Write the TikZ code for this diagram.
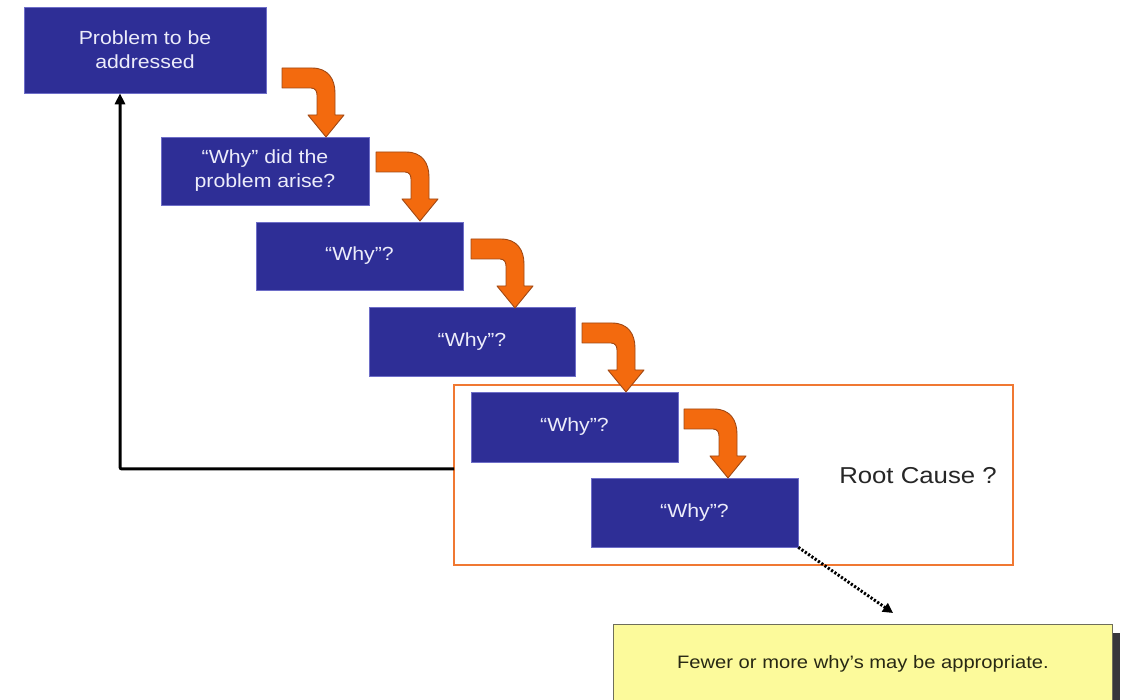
\documentclass[tikz,border=0pt]{standalone}
\usepackage{fontspec}
\setmainfont{Liberation Sans}[FakeStretch=1.12]
\usetikzlibrary{arrows.meta,shadows}

\definecolor{boxblue}{RGB}{46,46,150}
\definecolor{boxedge}{RGB}{110,110,200}
\definecolor{boxtext}{RGB}{236,236,250}
\definecolor{arroworange}{RGB}{243,106,14}
\definecolor{arrowedge}{RGB}{160,72,20}
\definecolor{frameorange}{RGB}{240,120,50}
\definecolor{noteyellow}{RGB}{252,250,155}
\definecolor{noteedge}{RGB}{110,110,90}
\definecolor{notetext}{RGB}{40,40,20}
\definecolor{shadowgrey}{RGB}{55,55,60}

\tikzset{
  whybox/.style={draw=boxedge, line width=0.6pt, fill=boxblue, text=boxtext,
    align=center, inner sep=0pt, font=\fontsize{19}{24}\selectfont},
  rootframe/.style={draw=frameorange, line width=2.8pt, inner sep=0pt},
  notebox/.style={draw=noteedge, line width=0.9pt, fill=noteyellow, text=notetext,
    inner sep=0pt, font=\fontsize{18}{22}\selectfont,
    drop shadow={shadow xshift=8pt, shadow yshift=-9pt, fill=shadowgrey, opacity=1}},
  feedback/.style={line width=3pt, rounded corners=2pt,
    -{Triangle[length=11pt,width=10pt]}},
  dotline/.style={line width=3pt, dash pattern=on 2.2pt off 1.8pt,
    -{Triangle[length=10pt,width=10pt]}},
  bendarrow/.pic={
    \draw[fill=arroworange, draw=arrowedge, line width=0.9pt, line join=round]
      (-44,-69) -- (-14,-69)
      .. controls (2,-69) and (9,-58) .. (9,-44)
      -- (9,-22) -- (18,-22) -- (0,0) -- (-18,-22) -- (-9,-22) -- (-9,-42)
      .. controls (-9,-46) and (-11,-49) .. (-15,-49)
      -- (-44,-49) -- cycle;
  }
}

\begin{document}
\begin{tikzpicture}[x=1pt,y=-1pt]
\useasboundingbox (0,0) rectangle (1125,700);
\fill[white] (0,0) rectangle (1125,700);

% frame around the last two questions
\node[rootframe, minimum width=559pt, minimum height=180pt] (frame) at (733.5,475) {};
\node[font=\fontsize{23}{26}\selectfont, text=black!85] (rc) at (918,476) {Root Cause ?};

% the chain of questions
\node[whybox, minimum width=242pt, minimum height=86pt] (b1) at (145,50) {Problem to be\\addressed};
\node[whybox, minimum width=208pt, minimum height=68pt] (b2) at (265,171) {“Why” did the\\problem arise?};
\node[whybox, minimum width=207pt, minimum height=68pt] (b3) at (359.5,256) {“Why”?};
\node[whybox, minimum width=206pt, minimum height=69pt] (b4) at (472,341.5) {“Why”?};
\node[whybox, minimum width=207pt, minimum height=70pt] (b5) at (574.5,427) {“Why”?};
\node[whybox, minimum width=207pt, minimum height=69pt] (b6) at (694.5,512.5) {“Why”?};

% bent arrows stepping down from one question to the next
\pic at (326,137) {bendarrow};
\pic at (420,221) {bendarrow};
\pic at (515,308) {bendarrow};
\pic at (626,392) {bendarrow};
\pic at (728,478) {bendarrow};

% note box with its shadow
\node[notebox, minimum width=499pt, minimum height=78pt, anchor=north west] (note) at (613,624)
  {Fewer or more why’s may be appropriate.};

% feedback from the root cause back to the problem
\coordinate (fbstart) at (454,469);
\coordinate (fbx) at (120,0);
\draw[feedback] (fbstart) -| (b1.south -| fbx);

% dotted pointer to the note
\coordinate (dtip) at (893,613);
\draw[dotline] (b6.south east) -- (dtip);
\end{tikzpicture}
\end{document}
